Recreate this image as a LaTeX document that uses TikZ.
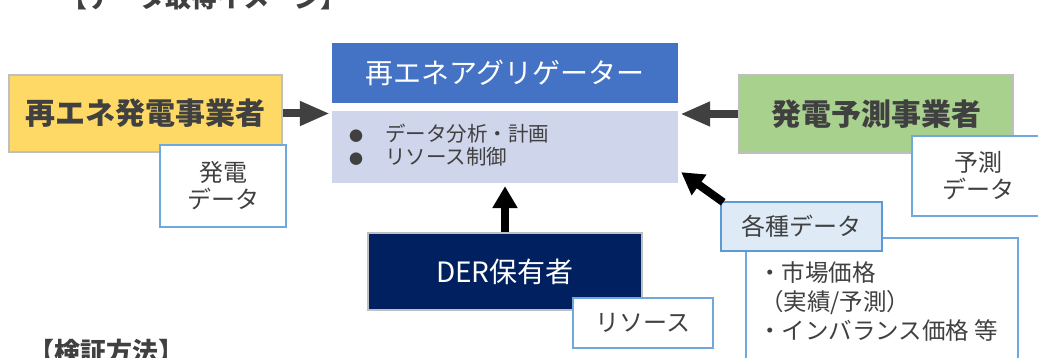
\documentclass[tikz,border=0pt]{standalone}
\usepackage{fontspec}
\setmainfont{Noto Sans CJK JP}
\usetikzlibrary{arrows.meta}
\definecolor{txt}{HTML}{404040}
\definecolor{yel}{HTML}{FFD966}
\definecolor{grn}{HTML}{A9D18E}
\definecolor{hdr}{HTML}{4472C4}
\definecolor{bod}{HTML}{CFD5EA}
\definecolor{navy}{HTML}{002060}
\definecolor{gbord}{HTML}{BFBFBF}
\definecolor{bbord}{HTML}{6FA8DC}
\definecolor{lblue}{HTML}{DEEBF7}
\definecolor{bbord2}{HTML}{5B9BD5}
\tikzset{
  actor/.style={draw=gbord, line width=2pt, inner sep=0pt, text=txt, font=\fontsize{30}{34}\selectfont\bfseries},
  databox/.style={draw=bbord, fill=white, line width=1.2pt, inner sep=0pt, text=txt, align=center, font=\fontsize{24}{27}\selectfont},
  garrow/.style={draw=txt, line width=8pt, -{Triangle[length=30pt,width=23pt]}},
  barrow/.style={draw=black, line width=8pt, -{Triangle[length=22pt,width=24pt]}},
  heading/.style={inner sep=0pt, text=txt, font=\fontsize{26}{28}\selectfont\bfseries}
}
\begin{document}
\begin{tikzpicture}[x=1pt,y=-1pt]
\clip (0,0) rectangle (1038,358);
\fill[white] (0,0) rectangle (1038,358);

\node[heading] (title) at (204,-3) {【データ取得イメージ】};
\node[heading, anchor=west] (method) at (28,352) {【検証方法】};

% aggregator
\node[fill=hdr, minimum width=346pt, minimum height=60pt, inner sep=0pt, text=white,
      font=\fontsize{28}{32}\selectfont] (hdr) at (505,73) {再エネアグリゲーター};
\node[fill=bod, minimum width=346pt, minimum height=72pt, inner sep=0pt] (body) at (505,147) {};
\node[anchor=west, align=left, inner sep=0pt, text=txt, font=\fontsize{20.5}{23}\selectfont] (bl) at (349,145)
  {\makebox[36pt][l]{\fontsize{14}{23}\selectfont ●}データ分析・計画\\ \makebox[36pt][l]{\fontsize{14}{23}\selectfont ●}リソース制御};

% left actor
\node[actor, fill=yel, minimum width=273pt, minimum height=77pt] (yel) at (145.5,113.5) {再エネ発電事業者};
\node[databox, minimum width=126pt, minimum height=82pt] (hd) at (223,186) {発電\\データ};

% right actor
\node[actor, fill=grn, minimum width=274pt, minimum height=78pt] (grn) at (876,114) {発電予測事業者};
\node[databox, minimum width=133pt, minimum height=80pt] (yd) at (978.5,176) {予測\\データ};

% various data
\node[databox, minimum width=272pt, minimum height=132pt] (list) at (882,304) {};
\node[anchor=north west, align=left, inner sep=0pt, text=txt, font=\fontsize{23.5}{29}\selectfont] (lt) at (758,261)
  {・市場価格\\\hspace*{2pt}（実績/予測）\\・インバランス価格 等};
\node[databox, fill=lblue, draw=bbord2, line width=1.5pt, minimum width=161pt, minimum height=49pt] (kd) at (801.5,226.5) {各種データ};

% DER
\node[actor, fill=navy, text=white, font=\fontsize{28}{32}\selectfont, minimum width=274pt, minimum height=77pt] (der) at (505,271.5) {DER保有者};
\node[databox, minimum width=140pt, minimum height=50pt] (res) at (643,323) {リソース};

% arrows
\draw[garrow] (yel.east) -- ([xshift=-2pt]body.west |- yel.east);
\draw[garrow] (grn.west) -- ([xshift=2pt]body.east |- grn.west);
\draw[barrow] (der.north) -- ([yshift=-3pt]body.south);
\draw[barrow] ([xshift=3pt,yshift=-1pt]kd.north west) -- ([xshift=3pt,yshift=11pt]body.south east);
\end{tikzpicture}
\end{document}
